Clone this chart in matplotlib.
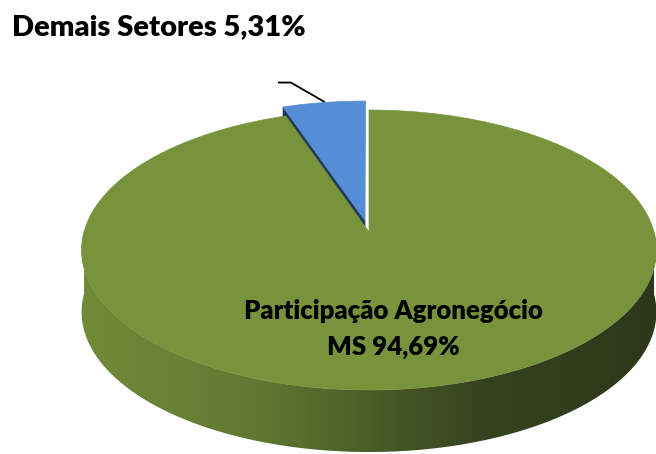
import numpy as np
import matplotlib
matplotlib.use("Agg")
import matplotlib.pyplot as plt
from matplotlib.patches import Polygon
from matplotlib.colors import LinearSegmentedColormap

# data
labels = ["Demais Setores", "Participação Agronegócio MS"]
values = [5.31, 94.69]
label_texts = ["Demais Setores 5,31%", "Participação Agronegócio\nMS 94,69%"]
top_colors = ["#558ED5", "#77933C"]

# 3d pie geometry (screen pixels)
cx, cy = 369, 232
R = 285
sin_t = 0.483
cos_t = np.sqrt(1 - sin_t ** 2)
D = 6.8
depth = 62
explode = [0.085, 0.0]


def proj(u, v, z=0.0):
    f = D / (D + v * cos_t)
    return cx + R * u * f, cy - R * v * sin_t * f + z


fig = plt.figure(figsize=(6.56, 4.54), dpi=100)
ax = fig.add_axes([0, 0, 1, 1])
ax.set_xlim(0, 656)
ax.set_ylim(454, 0)
ax.axis("off")

# slice angles (start at 12 o'clock, counterclockwise)
fracs = np.array(values) / sum(values)
starts = [90.0]
for fr in fracs[:-1]:
    starts.append(starts[-1] + 360 * fr)
ends = [s + 360 * fr for s, fr in zip(starts, fracs)]


def slice_offset(i):
    mid = np.radians((starts[i] + ends[i]) / 2)
    return explode[i] * np.cos(mid), explode[i] * np.sin(mid)


# blue slice (drawn first: it sits behind)
ou, ov = slice_offset(0)
a1 = np.radians(ends[0])
p0 = proj(ou, ov)
p1 = proj(ou + np.cos(a1), ov + np.sin(a1))
face = [p0, p1, (p1[0], p1[1] + depth), (p0[0], p0[1] + depth)]
ax.add_patch(Polygon(face, closed=True, facecolor="#22395C", edgecolor="#22395C", lw=0.5))
phi = np.radians(np.linspace(starts[0], ends[0], 60))
pts = [proj(ou, ov)] + [proj(ou + np.cos(p), ov + np.sin(p)) for p in phi]
ax.add_patch(Polygon(pts, closed=True, facecolor=top_colors[0], edgecolor=top_colors[0], lw=0.5))

# green slice side (front half) with horizontal shading
phis = np.radians(np.linspace(180, 360, 300))
top_arc = [proj(np.cos(p), np.sin(p)) for p in phis]
bot_arc = [(x, y + depth) for x, y in top_arc[::-1]]
side = Polygon(top_arc + bot_arc, closed=True, facecolor="none", edgecolor="none")
ax.add_patch(side)
side_cmap = LinearSegmentedColormap.from_list(
    "side",
    [(0.0, (112/255, 140/255, 58/255)),
     (0.30, (96/255, 121/255, 50/255)),
     (0.50, (74/255, 94/255, 40/255)),
     (0.70, (54/255, 66/255, 31/255)),
     (1.0, (45/255, 55/255, 26/255))])
grad = np.linspace(0, 1, 400).reshape(1, -1)
im = ax.imshow(grad, cmap=side_cmap, extent=[80, 658, 454, 200], aspect="auto",
               interpolation="bilinear", zorder=1)
im.set_clip_path(side)

# green top
phi = np.radians(np.linspace(starts[1], ends[1], 400))
pts = [proj(0, 0)] + [proj(np.cos(p), np.sin(p)) for p in phi]
ax.add_patch(Polygon(pts, closed=True, facecolor=top_colors[1], edgecolor=top_colors[1],
                     lw=0.5, zorder=2))

# leader line for small slice
mid = np.radians((starts[0] + ends[0]) / 2)
lx, ly = proj(ou + np.cos(mid), ov + np.sin(mid))
ax.plot([lx, lx - 33, lx - 45], [ly - 1, ly - 20, ly - 20], color="black", lw=1.3, zorder=3)

ax.text(12, 35, label_texts[0], fontsize=21, fontweight="heavy", family="Lato",
        ha="left", va="baseline", color="black", zorder=4)
ax.text(393, 319, label_texts[1].split("\n")[0], fontsize=18.5, fontweight="heavy",
        family="Lato", ha="center", va="baseline", color="black", zorder=4)
ax.text(393, 355, label_texts[1].split("\n")[1], fontsize=18.5, fontweight="heavy",
        family="Lato", ha="center", va="baseline", color="black", zorder=4)

fig.savefig("out.png", dpi=100)
